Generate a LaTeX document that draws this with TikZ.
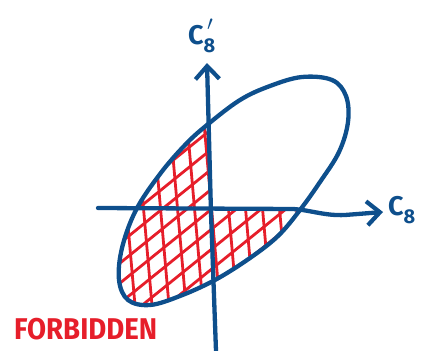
\documentclass[tikz,border=0pt]{standalone}
\usepackage{fontspec}
\newfontfamily\hand{Fira Sans}
\usetikzlibrary{arrows.meta}
\definecolor{penblue}{HTML}{0E4F8C}
\definecolor{penred}{HTML}{E61E2A}
\tikzset{
  blueline/.style={draw=penblue, line width=4.3pt, line cap=round, line join=round},
  hatchline/.style={draw=penred, line width=2.8pt, line cap=round},
  axisarrow/.style={blueline, -{Straight Barb[length=13pt,width=24pt,line width=4.2pt]}},
  axislabel/.style={text=penblue, font=\hand\bfseries\fontsize{27}{27}\selectfont, inner sep=0pt},
}
\begin{document}
\begin{tikzpicture}[x=1pt,y=-1pt]
\useasboundingbox (0,0) rectangle (421,351);
% the closed curve
\def\curve{plot[smooth cycle, tension=0.6] coordinates {(207,125) (240,100) (270,86) (302,77) (332,80) (346,96) (348,122) (339,152) (320,182) (300,210) (278,236) (250,258) (215,280) (180,296) (150,305) (128,300) (119,280) (122,248) (136,210) (160,174) (185,145)}}
% hatching
\begin{scope}
  \clip \curve;
  \clip (0,0) -- (207,0) -- (209,127) -- (211,210) -- (421,210) -- (421,351) -- (0,351) -- cycle;
  \foreach \x in {100,117,...,380} { \draw[hatchline] (\x,100) -- (\x+22,351); }
  \foreach \y in {140,160,...,720} { \draw[hatchline] (0,\y) -- (421,\y-340); }
\end{scope}
\draw[blueline] \curve;
% axes
\coordinate (hstart) at (98,208);
\coordinate (htip) at (383,212);
\coordinate (vstart) at (216,351);
\coordinate (vtip) at (207,63);
\draw[axisarrow] (hstart) -- (293,209) .. controls (310,210) and (325,216) .. (345,215) -- (htip);
\draw[axisarrow] (vstart) -- (211,213) -- (vtip);
% labels
\node[axislabel, anchor=west] (xl) at (388,210) {C\raisebox{-0.3em}{\fontsize{20}{20}\selectfont 8}};
\node[axislabel, anchor=west] (yl) at (188,36) {C\rlap{\raisebox{0.5em}{\fontsize{20}{20}\selectfont\,$\prime$}}\raisebox{-0.3em}{\fontsize{20}{20}\selectfont 8}};
\node[text=penred, font=\hand\bfseries\fontsize{30}{30}\selectfont, anchor=west, inner sep=0pt, xscale=0.92] (fb) at (14,329) {FORBIDDEN};
\end{tikzpicture}
\end{document}
